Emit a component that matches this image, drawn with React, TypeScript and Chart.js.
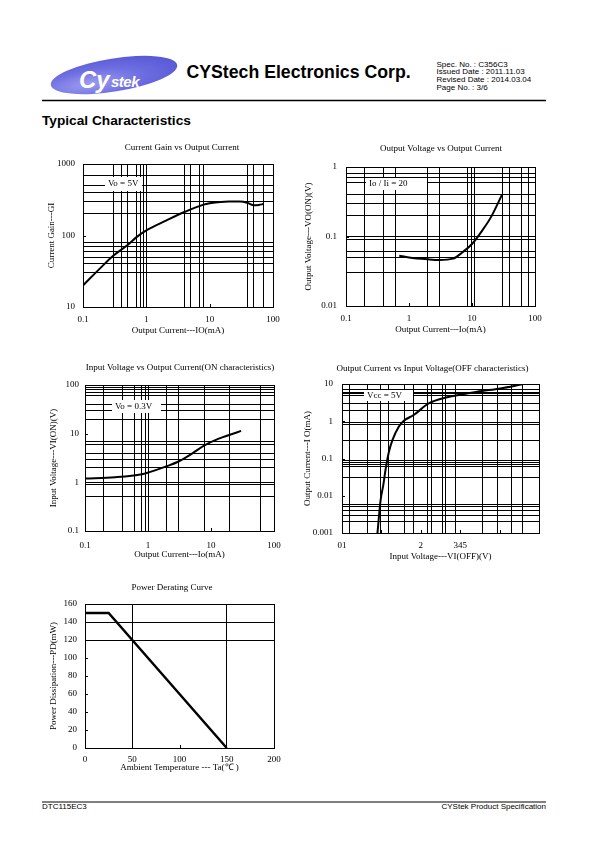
import React, { useEffect, useRef } from 'react';
import { Chart, registerables } from 'chart.js';

Chart.register(...registerables);

const SERIF = '"Liberation Serif", "Times New Roman", serif';
const SANS = '"Liberation Sans", Arial, Helvetica, sans-serif';

// ---------- Chart 1: Current Gain vs Output Current ----------
const gainTitle = 'Current Gain vs Output Current';
const gainIo = [0.1, 0.2, 0.3, 0.5, 0.7, 1, 2, 4, 8, 10, 15, 20, 30, 40, 50, 60, 70];
const gainG = [20, 37, 52, 73, 95, 118, 160, 213, 270, 282, 295, 298, 298, 285, 265, 268, 275];
const gainXGrid = [0.3, 0.4, 0.5, 0.7, 0.8, 0.9, 1, 4, 5, 7, 8, 40, 50, 70];
const gainYGrid = [30, 40, 50, 60, 70, 80, 200, 300, 400, 500, 700, 1000];
const gainXTicks = [0.1, 1, 10, 100];
const gainXLabels = ['0.1', '1', '10', '100'];
const gainYTicks = [10, 100, 1000];
const gainYLabels = ['10', '100', '1000'];

// ---------- Chart 2: Output Voltage vs Output Current ----------
const vceTitle = 'Output Voltage vs Output Current';
const vceIo = [0.7, 1, 2, 3, 5, 7, 10, 15, 20, 30];
const vceV = [0.053, 0.05, 0.047, 0.046, 0.048, 0.059, 0.078, 0.127, 0.19, 0.4];
const vceXGrid = [0.2, 0.4, 0.6, 2, 3, 8.5, 9.8, 11, 30, 40, 60, 80];
const vceYGrid = [0.03, 0.05, 0.06, 0.09, 0.1, 0.2, 0.3, 0.4, 0.6, 0.7, 0.8, 1];
const vceXTicks = [0.1, 1, 10, 100];
const vceXLabels = ['0.1', '1', '10', '100'];
const vceYTicks = [0.01, 0.1, 1];
const vceYLabels = ['0.01', '0.1', '1'];

// ---------- Chart 3: Input Voltage vs Output Current (ON) ----------
const vinTitle = 'Input Voltage vs Output Current(ON characteristics)';
const vinIo = [0.1, 0.3, 0.8, 1, 2, 3, 5, 8, 13, 20, 30];
const vinV = [1.2, 1.27, 1.46, 1.58, 2.15, 2.65, 3.9, 5.8, 7.8, 9.5, 11.4];
const vinXGrid = [0.2, 0.4, 0.6, 0.8, 0.9, 1, 2, 3, 8, 20, 60];
const vinYGrid = [0.5, 0.9, 1, 2, 3, 4, 6, 7, 20, 30, 40, 60, 70, 80, 90, 100];
const vinXTicks = [0.1, 1, 10, 100];
const vinXLabels = ['0.1', '1', '10', '100'];
const vinYTicks = [0.1, 1, 10, 100];
const vinYLabels = ['0.1', '1', '10', '100'];

// ---------- Chart 4: Output Current vs Input Voltage (OFF) ----------
const offTitle = 'Output Current vs Input Voltage(OFF characteristics)';
const offVi = [0.9, 0.98, 1.05, 1.11, 1.19, 1.28, 1.44, 1.57, 1.82, 2.2, 2.67, 3.43, 4.02, 4.58];
const offIo = [0.001, 0.0076, 0.02, 0.054, 0.15, 0.31, 0.71, 1.03, 1.47, 3.0, 4.4, 6.2, 7.6, 9.8];
const offXGrid = [0.2, 0.65, 0.97, 1.17, 1.58, 1.82, 2.18, 2.26, 2.54, 2.63, 2.89, 3.56, 3.95, 4.3, 4.58];
const offYGrid = [0.002, 0.003, 0.004, 0.005, 0.006, 0.03, 0.06, 0.07, 0.08, 0.09, 0.3, 0.8, 0.9, 2, 3, 5, 5.5, 6, 7, 10];
const offXTicks = [0, 2, 3];
const offXLabels = ['01', '2', '345'];
const offYTicks = [0.001, 0.01, 0.1, 1, 10];
const offYLabels = ['0.001', '0.01', '0.1', '1', '10'];

// ---------- Chart 5: Power Derating Curve ----------
const derTitle = 'Power Derating Curve';
const derTa = [0, 25, 150];
const derPd = [150, 150, 0];
const derXGrid = [50, 150];
const derYGrid = [120, 140, 160];
const derXTicks = [0, 50, 100, 150, 200];
const derXLabels = ['0', '50', '100', '150', '200'];
const derYTicks = [0, 20, 40, 60, 80, 100, 120, 140, 160];
const derYLabels = ['0', '20', '40', '60', '80', '100', '120', '140', '160'];

type Axis = {
  type: 'logarithmic' | 'linear';
  min: number;
  max: number;
  grid: number[];
  tickVals: number[];
  tickLabels: string[];
  inTicks: number[];
  title: string;
};
type Box = { x0: number; x1: number; y0: number; y1: number; text: string };
type Geo = {
  left: number; top: number; width: number; height: number;
  plotL: number; plotT: number; plotR: number; plotB: number;
  titleX: number; titleY: number;
  xTickPad: number; xTitlePad: number; yTitlePad: number; yTickPad: number;
};
type Spec = {
  title: string; geo: Geo; x: Axis; y: Axis; xs: number[]; ys: number[];
  lineWidth: number; smooth: boolean; box?: Box;
};

const idxOf = (arr: number[], v: number) =>
  arr.findIndex((u) => Math.abs(u - v) <= Math.max(Math.abs(u), 1e-9) * 1e-6);

const sheetPlugin = {
  id: 'sheet',
  beforeDatasetsDraw(chart: any, _a: any, o: any) {
    if (!o.box) return;
    const { ctx, scales } = chart;
    const b = o.box as Box;
    const x0 = Math.round(scales.x.getPixelForValue(b.x0));
    const x1 = Math.round(scales.x.getPixelForValue(b.x1));
    const y0 = Math.round(scales.y.getPixelForValue(b.y0));
    const y1 = Math.round(scales.y.getPixelForValue(b.y1));
    ctx.save();
    ctx.fillStyle = '#fff';
    ctx.fillRect(x0, Math.min(y0, y1), x1 - x0, Math.abs(y1 - y0));
    ctx.fillStyle = '#000';
    ctx.font = `9px ${SERIF}`;
    ctx.textAlign = 'left';
    ctx.textBaseline = 'middle';
    ctx.fillText(b.text, x0 + 3, (y0 + y1) / 2);
    ctx.restore();
  },
  afterDraw(chart: any, _a: any, o: any) {
    const { ctx, chartArea: a, scales } = chart;
    ctx.save();
    ctx.strokeStyle = '#000';
    ctx.lineWidth = 1;
    ctx.strokeRect(Math.round(a.left) + 0.5, Math.round(a.top) + 0.5,
      Math.round(a.right - a.left), Math.round(a.bottom - a.top));
    ctx.beginPath();
    for (const v of o.xIn) {
      const p = Math.round(scales.x.getPixelForValue(v)) + 0.5;
      ctx.moveTo(p, a.bottom);
      ctx.lineTo(p, a.bottom - 3);
    }
    for (const v of o.yIn) {
      const p = Math.round(scales.y.getPixelForValue(v)) + 0.5;
      ctx.moveTo(a.left, p);
      ctx.lineTo(a.left + 3, p);
    }
    ctx.stroke();
    ctx.fillStyle = '#000';
    ctx.font = `9px ${SERIF}`;
    ctx.textAlign = 'center';
    ctx.textBaseline = 'middle';
    ctx.fillText(o.title, o.tx, o.ty);
    ctx.restore();
  },
};

function buildConfig(s: Spec): any {
  const g = s.geo;
  const scale = (a: Axis, axis: 'x' | 'y') => {
    const all = Array.from(new Set([...a.grid, ...a.tickVals])).sort((p, q) => p - q);
    return {
      type: a.type,
      position: axis === 'x' ? 'bottom' : 'left',
      min: a.min,
      max: a.max,
      afterBuildTicks: (sc: any) => {
        sc.ticks = all.map((v) => ({ value: v }));
      },
      afterFit: (sc: any) => {
        if (axis === 'x') sc.height = g.top + g.height - g.plotB;
        else sc.width = g.plotL - g.left;
      },
      grid: {
        color: (c: any) => (c.tick && idxOf(a.grid, c.tick.value) >= 0 ? '#000' : 'rgba(0,0,0,0)'),
        lineWidth: 1,
        drawTicks: false,
      },
      border: { display: false },
      ticks: {
        autoSkip: false,
        maxRotation: 0,
        minRotation: 0,
        color: '#000',
        padding: axis === 'x' ? g.xTickPad : g.yTickPad,
        font: { family: SERIF, size: 9 },
        callback: (v: any) => {
          const i = idxOf(a.tickVals, Number(v));
          return i >= 0 ? a.tickLabels[i] : '';
        },
      },
      title: {
        display: true,
        text: a.title,
        color: '#000',
        font: { family: SERIF, size: 9, lineHeight: 1 },
        padding: axis === 'x' ? { top: 0, bottom: g.xTitlePad } : { top: g.yTitlePad, bottom: 0 },
      },
    };
  };
  const ds: any = {
    data: s.xs.map((x, i) => ({ x, y: s.ys[i] })),
    borderColor: '#000',
    borderWidth: s.lineWidth,
    pointRadius: 0,
    fill: false,
    tension: 0,
    borderJoinStyle: 'miter',
  };
  if (s.smooth) ds.cubicInterpolationMode = 'monotone';
  return {
    type: 'line',
    data: { datasets: [ds] },
    options: {
      responsive: false,
      animation: false,
      devicePixelRatio: 1,
      layout: {
        padding: { top: g.plotT - g.top, right: g.left + g.width - g.plotR, left: 0, bottom: 0 },
      },
      scales: { x: scale(s.x, 'x'), y: scale(s.y, 'y') },
      plugins: {
        legend: { display: false },
        tooltip: { enabled: false },
        title: { display: false },
        sheet: {
          box: s.box,
          xIn: s.x.inTicks,
          yIn: s.y.inTicks,
          title: s.title,
          tx: g.titleX - g.left,
          ty: g.titleY - g.top,
        },
      },
    },
    plugins: [sheetPlugin],
  };
}

const specs: Spec[] = [
  {
    title: gainTitle,
    geo: { left: 30, top: 135, width: 270, height: 205, plotL: 83, plotT: 164, plotR: 273, plotB: 307,
      titleX: 182, titleY: 147.5, xTickPad: 7, xTitlePad: 5, yTitlePad: 17, yTickPad: 8 },
    x: { type: 'logarithmic', min: 0.1, max: 100, grid: gainXGrid, tickVals: gainXTicks, tickLabels: gainXLabels,
      inTicks: [1, 10], title: 'Output Current---IO(mA)' },
    y: { type: 'logarithmic', min: 10, max: 1000, grid: gainYGrid, tickVals: gainYTicks, tickLabels: gainYLabels,
      inTicks: [100], title: 'Current Gain---GI' },
    xs: gainIo, ys: gainG, lineWidth: 2, smooth: true,
    box: { x0: 0.22, x1: 0.85, y0: 650, y1: 420, text: 'Vo = 5V' },
  },
  {
    title: vceTitle,
    geo: { left: 295, top: 135, width: 265, height: 205, plotL: 346, plotT: 167, plotR: 535, plotB: 306,
      titleX: 441, titleY: 148.5, xTickPad: 7.5, xTitlePad: 6, yTitlePad: 9, yTickPad: 9 },
    x: { type: 'logarithmic', min: 0.1, max: 100, grid: vceXGrid, tickVals: vceXTicks, tickLabels: vceXLabels,
      inTicks: [1, 10], title: 'Output Current---Io(mA)' },
    y: { type: 'logarithmic', min: 0.01, max: 1, grid: vceYGrid, tickVals: vceYTicks, tickLabels: vceYLabels,
      inTicks: [0.1], title: 'Output Voltage---VO(ON)(V)' },
    xs: vceIo, ys: vceV, lineWidth: 2, smooth: true,
    box: { x0: 0.21, x1: 1.95, y0: 0.69, y1: 0.46, text: 'Io / Ii = 20' },
  },
  {
    title: vinTitle,
    geo: { left: 30, top: 355, width: 270, height: 215, plotL: 85, plotT: 385, plotR: 274, plotB: 531,
      titleX: 180, titleY: 367.5, xTickPad: 9, xTitlePad: 10.5, yTitlePad: 19.5, yTickPad: 6 },
    x: { type: 'logarithmic', min: 0.1, max: 100, grid: vinXGrid, tickVals: vinXTicks, tickLabels: vinXLabels,
      inTicks: [1, 10], title: 'Output Current---Io(mA)' },
    y: { type: 'logarithmic', min: 0.1, max: 100, grid: vinYGrid, tickVals: vinYTicks, tickLabels: vinYLabels,
      inTicks: [1, 10], title: 'Input Voltage---VI(ON)(V)' },
    xs: vinIo, ys: vinV, lineWidth: 2, smooth: true,
    box: { x0: 0.27, x1: 1.6, y0: 49, y1: 26, text: 'Vo = 0.3V' },
  },
  {
    title: offTitle,
    geo: { left: 295, top: 355, width: 265, height: 215, plotL: 342, plotT: 384, plotR: 539, plotB: 533,
      titleX: 432.5, titleY: 368.5, xTickPad: 7.5, xTitlePad: 8.5, yTitlePad: 8, yTickPad: 9 },
    x: { type: 'linear', min: 0, max: 5, grid: offXGrid, tickVals: offXTicks, tickLabels: offXLabels,
      inTicks: [1, 2, 3, 4], title: 'Input Voltage---VI(OFF)(V)' },
    y: { type: 'logarithmic', min: 0.001, max: 10, grid: offYGrid, tickVals: offYTicks, tickLabels: offYLabels,
      inTicks: [0.01, 0.1, 1], title: 'Output Current---I O(mA)' },
    xs: offVi, ys: offIo, lineWidth: 2, smooth: true,
    box: { x0: 0.56, x1: 1.8, y0: 6.9, y1: 3.6, text: 'Vcc = 5V' },
  },
  {
    title: derTitle,
    geo: { left: 30, top: 575, width: 270, height: 205, plotL: 85, plotT: 604, plotR: 274, plotB: 748,
      titleX: 172, titleY: 587.5, xTickPad: 6.5, xTitlePad: 7.5, yTitlePad: 19, yTickPad: 8 },
    x: { type: 'linear', min: 0, max: 200, grid: derXGrid, tickVals: derXTicks, tickLabels: derXLabels,
      inTicks: [100], title: 'Ambient Temperature --- Ta(℃ )' },
    y: { type: 'linear', min: 0, max: 160, grid: derYGrid, tickVals: derYTicks, tickLabels: derYLabels,
      inTicks: [20, 40, 60, 80, 100], title: 'Power Dissipation---PD(mW)' },
    xs: derTa, ys: derPd, lineWidth: 2.4, smooth: false,
  },
];

function ChartBox({ spec }: { spec: Spec }) {
  const ref = useRef<HTMLCanvasElement | null>(null);
  useEffect(() => {
    if (!ref.current) return;
    const c = new Chart(ref.current, buildConfig(spec));
    return () => c.destroy();
  }, [spec]);
  const g = spec.geo;
  return (
    <canvas
      ref={ref}
      width={g.width}
      height={g.height}
      style={{ position: 'absolute', left: g.left, top: g.top, width: g.width, height: g.height }}
    />
  );
}

function Sheet() {
  return (
    <svg width={595} height={842} style={{ position: 'absolute', left: 0, top: 0 }}>
      <defs>
        <radialGradient id="logoGrad" cx="0.3" cy="0.65" r="0.8">
          <stop offset="0" stopColor="#9c9cf0" />
          <stop offset="0.5" stopColor="#6f6fe2" />
          <stop offset="1" stopColor="#5555d4" />
        </radialGradient>
      </defs>
      <ellipse cx={114} cy={75} rx={64} ry={16.5} transform="rotate(-9 114 75)" fill="url(#logoGrad)" />
      <text x={79} y={88} fontFamily={SANS} fontWeight="bold" fontStyle="italic" fontSize={24} fill="#fff">Cy</text>
      <text x={111} y={87} fontFamily={SANS} fontWeight="bold" fontStyle="italic" fontSize={15} fill="#fff" letterSpacing={-0.5}>stek</text>
      <text x={186.5} y={78.3} fontFamily={SANS} fontWeight="bold" fontSize={17.7} fill="#000">CYStech Electronics Corp.</text>
      <g fontFamily={SANS} fontSize={8} fill="#000">
        <text x={436.5} y={66.5}>Spec. No. : C356C3</text>
        <text x={436.5} y={74.3}>Issued Date : 2011.11.03</text>
        <text x={436.5} y={82.1}>Revised Date : 2014.03.04</text>
        <text x={436.5} y={89.9}>Page No. : 3/6</text>
      </g>
      <line x1={42} x2={546} y1={100.5} y2={100.5} stroke="#000" strokeWidth={1.3} />
      <text x={42} y={124.5} fontFamily={SANS} fontWeight="bold" fontSize={13.7} fill="#000">Typical Characteristics</text>
      <line x1={42} x2={546} y1={802} y2={802} stroke="#000" strokeWidth={1} />
      <text x={42} y={809} fontFamily={SANS} fontSize={8} fill="#000">DTC115EC3</text>
      <text x={546} y={809} fontFamily={SANS} fontSize={8} fill="#000" textAnchor="end">CYStek Product Specification</text>
    </svg>
  );
}

export default function App() {
  return (
    <div style={{ position: 'absolute', left: 0, top: 0, width: 595, height: 842, background: '#fff' }}>
      <Sheet />
      {specs.map((s, i) => (
        <ChartBox key={i} spec={s} />
      ))}
    </div>
  );
}
